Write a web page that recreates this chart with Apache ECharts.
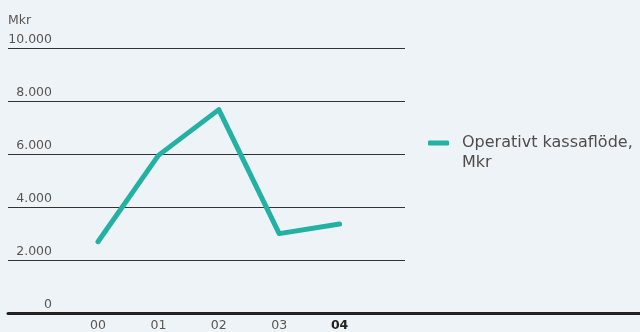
<!DOCTYPE html>
<html><head><meta charset="utf-8">
<script src="https://cdn.jsdelivr.net/npm/echarts@6/dist/echarts.min.js"></script>
<style>html,body{margin:0;padding:0;background:#eef3f8}#c{width:640px;height:332px}</style>
</head><body><div id="c"></div>
<script>
const categories = ['00', '01', '02', '03', '04'];
const cashFlow = [2550, 5870, 7630, 2860, 3230];
const yMin = 0, yMax = 10000, yStep = 2000;
const seriesName = 'Operativt kassaflöde, Mkr';
const unitLabel = 'Mkr';
const FONT = 'DejaVu Sans';
const TEAL = '#22b1a2';

const fmt = v => v === 0 ? '0' : (v / 1000).toFixed(0) + '.000';

const chart = echarts.init(document.getElementById('c'), null, {renderer: 'canvas'});
chart.setOption({
  backgroundColor: '#eef3f8',
  animation: false,
  title: {text: unitLabel, left: 8, top: 14, padding: 0,
    textStyle: {fontFamily: FONT, fontSize: 12.5, fontWeight: 'normal', color: '#555'}},
  legend: {
    left: 428, top: 113, padding: 0, orient: 'vertical', icon: 'roundRect',
    itemWidth: 21, itemHeight: 5, selectedMode: false,
    data: [seriesName],
    formatter: n => '\n' + n.replace(', ', ',\n'),
    textStyle: {fontFamily: FONT, fontSize: 16, color: '#4d4d4d', lineHeight: 20, padding: [0, 0, 0, 8]}
  },
  grid: [
    {left: 8, width: 397, top: 48, bottom: 19},
    {left: 67.8, width: 302, top: 48, bottom: 19},
    {left: 8, right: 0, top: 48, bottom: 19}
  ],
  xAxis: [
    {gridIndex: 0, type: 'value', show: false},
    {gridIndex: 1, type: 'category', data: categories, boundaryGap: true,
      axisLine: {show: false}, axisTick: {show: false},
      axisLabel: {margin: 11, fontFamily: FONT, fontSize: 12.5, color: '#555',
        formatter: (v, i) => i === categories.length - 1 ? '{b|' + v + '}' : v,
        rich: {b: {fontWeight: 'bold', color: '#222', fontFamily: FONT, fontSize: 12.5}}}},
    {gridIndex: 2, type: 'value', min: 0, max: 1,
      axisLine: {show: true, lineStyle: {color: '#222', width: 3}},
      axisTick: {show: false}, axisLabel: {show: false}, splitLine: {show: false}}
  ],
  yAxis: [
    {gridIndex: 0, type: 'value', min: yMin, max: yMax, interval: yStep,
      axisLine: {show: false}, axisTick: {show: false},
      splitLine: {lineStyle: {color: '#333', width: 1}},
      axisLabel: {formatter: fmt, align: 'right', verticalAlign: 'bottom', margin: -44,
        padding: [0, 0, 2, 0], fontFamily: FONT, fontSize: 12.5, color: '#555'}},
    {gridIndex: 1, type: 'value', min: yMin, max: yMax, show: false},
    {gridIndex: 2, type: 'value', min: yMin, max: yMax, show: false}
  ],
  series: [{
    type: 'line', name: seriesName, xAxisIndex: 1, yAxisIndex: 1,
    data: cashFlow, symbol: 'none', silent: true,
    lineStyle: {color: TEAL, width: 5, cap: 'round', join: 'round'},
    itemStyle: {color: TEAL}
  }]
});
</script></body></html>
